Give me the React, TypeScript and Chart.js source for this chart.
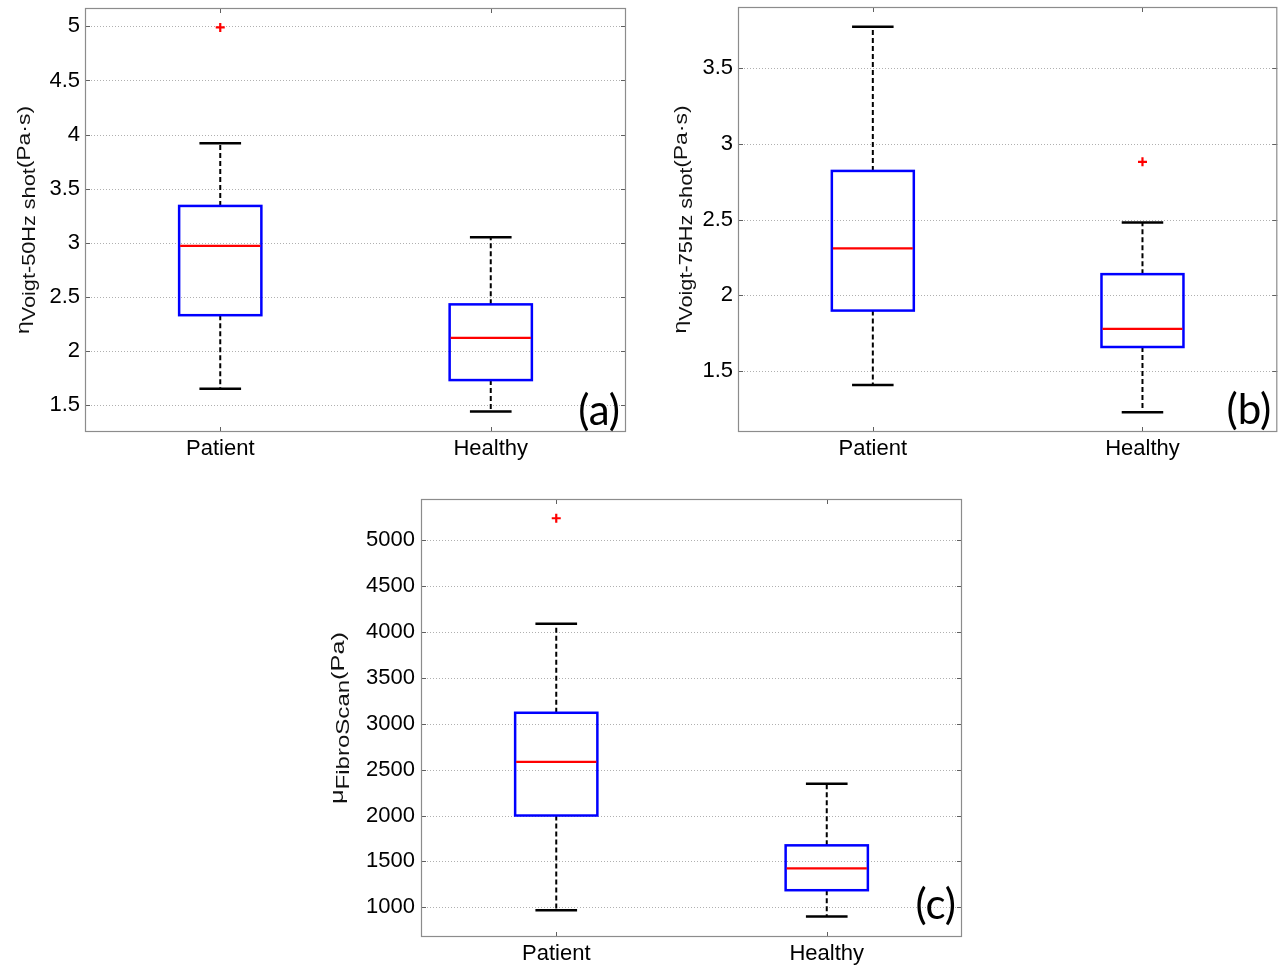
import React, { useEffect, useRef } from "react";
import { Chart, registerables } from "chart.js";

Chart.register(...registerables);

// ---------- data ----------
const categories = ["Patient", "Healthy"];

// Panel (a): eta Voigt-50Hz shot (Pa·s)
const aLow = [1.65, 1.44];
const aQ1 = [2.33, 1.73];
const aMedian = [2.97, 2.12];
const aQ3 = [3.34, 2.43];
const aHigh = [3.92, 3.05];
const aOutliers = [{ x: 1, y: 4.99 }];
const aYTicks = [1.5, 2, 2.5, 3, 3.5, 4, 4.5, 5];

// Panel (b): eta Voigt-75Hz shot (Pa·s)
const bLow = [1.41, 1.23];
const bQ1 = [1.9, 1.66];
const bMedian = [2.31, 1.78];
const bQ3 = [2.82, 2.14];
const bHigh = [3.77, 2.48];
const bOutliers = [{ x: 2, y: 2.88 }];
const bYTicks = [1.5, 2, 2.5, 3, 3.5];

// Panel (c): mu FibroScan (Pa)
const cLow = [967, 900];
const cQ1 = [2000, 1186];
const cMedian = [2585, 1423];
const cQ3 = [3120, 1675];
const cHigh = [4090, 2345];
const cOutliers = [{ x: 1, y: 5240 }];
const cYTicks = [1000, 1500, 2000, 2500, 3000, 3500, 4000, 4500, 5000];

// ---------- styles ----------
const BOX_HALF = 0.152;
const CAP_HALF = 0.077;
const TICK_FONT = '"Liberation Sans", Arial, sans-serif';
const TITLE_FONT = '"Liberation Sans", Arial, sans-serif';
const TAG_FONT = 'Lato, "Open Sans", sans-serif';

type Panel = {
  key: string;
  left: number;
  top: number;
  width: number;
  height: number;
  padTop: number;
  padRight: number;
  yAxisWidth: number;
  xAxisHeight: number;
  yMin: number;
  yMax: number;
  yTicks: number[];
  low: number[];
  q1: number[];
  med: number[];
  q3: number[];
  high: number[];
  outliers: { x: number; y: number }[];
  symbol: string;
  sub: string;
  unit: string;
  titleX: number;
  titleLen: number;
  tag: string;
  tagDy: number;
  yPad: number;
};

const panels: Panel[] = [
  {
    key: "a",
    left: 0,
    top: 0,
    width: 640,
    height: 470,
    padTop: 8,
    padRight: 14,
    yAxisWidth: 85,
    xAxisHeight: 38,
    yMin: 1.25,
    yMax: 5.17,
    yTicks: aYTicks,
    low: aLow,
    q1: aQ1,
    med: aMedian,
    q3: aQ3,
    high: aHigh,
    outliers: aOutliers,
    symbol: "η",
    sub: "Voigt-50Hz shot",
    unit: "(Pa·s)",
    titleX: 31,
    titleLen: 228,
    tag: "(a)",
    tagDy: 21,
    yPad: 5,
  },
  {
    key: "b",
    left: 650,
    top: 0,
    width: 634,
    height: 470,
    padTop: 7,
    padRight: 2,
    yAxisWidth: 88,
    xAxisHeight: 38,
    yMin: 1.1,
    yMax: 3.9,
    yTicks: bYTicks,
    low: bLow,
    q1: bQ1,
    med: bMedian,
    q3: bQ3,
    high: bHigh,
    outliers: bOutliers,
    symbol: "η",
    sub: "Voigt-75Hz shot",
    unit: "(Pa·s)",
    titleX: 38,
    titleLen: 228,
    tag: "(b)",
    tagDy: 22,
    yPad: 5,
  },
  {
    key: "c",
    left: 310,
    top: 480,
    width: 660,
    height: 491,
    padTop: 19,
    padRight: 8,
    yAxisWidth: 111,
    xAxisHeight: 34,
    yMin: 676,
    yMax: 5450,
    yTicks: cYTicks,
    low: cLow,
    q1: cQ1,
    med: cMedian,
    q3: cQ3,
    high: cHigh,
    outliers: cOutliers,
    symbol: "μ",
    sub: "FibroScan",
    unit: "(Pa)",
    titleX: 35,
    titleLen: 172,
    tag: "(c)",
    tagDy: 32,
    yPad: 6,
  },
];

function makePlugin(p: Panel) {
  return {
    id: "boxplot_" + p.key,
    beforeDatasetsDraw(chart: any) {
      const { ctx, chartArea: ca, scales } = chart;
      const xs = scales.x;
      const ys = scales.y;
      ctx.save();
      // dotted grid
      ctx.strokeStyle = "#b0b0b0";
      ctx.lineWidth = 1;
      ctx.setLineDash([1, 2]);
      for (const t of ys.ticks) {
        const y = Math.round(ys.getPixelForValue(t.value)) + 0.5;
        ctx.beginPath();
        ctx.moveTo(ca.left, y);
        ctx.lineTo(ca.right, y);
        ctx.stroke();
      }
      ctx.setLineDash([]);
      // inner tick marks
      ctx.strokeStyle = "#606060";
      for (const t of ys.ticks) {
        const y = Math.round(ys.getPixelForValue(t.value)) + 0.5;
        ctx.beginPath();
        ctx.moveTo(ca.left, y);
        ctx.lineTo(ca.left + 5, y);
        ctx.moveTo(ca.right - 5, y);
        ctx.lineTo(ca.right, y);
        ctx.stroke();
      }
      for (const t of xs.ticks) {
        const x = Math.round(xs.getPixelForValue(t.value)) + 0.5;
        ctx.beginPath();
        ctx.moveTo(x, ca.bottom);
        ctx.lineTo(x, ca.bottom - 5);
        ctx.moveTo(x, ca.top);
        ctx.lineTo(x, ca.top + 5);
        ctx.stroke();
      }
      // frame
      ctx.strokeStyle = "#8c8c8c";
      ctx.lineWidth = 1.2;
      ctx.strokeRect(ca.left + 0.5, ca.top + 0.5, ca.width - 1, ca.height - 1);

      // boxes
      categories.forEach((_c, i) => {
        const v = i + 1;
        const x = xs.getPixelForValue(v);
        const hw = xs.getPixelForValue(v + BOX_HALF) - x;
        const cw = xs.getPixelForValue(v + CAP_HALF) - x;
        const yLow = ys.getPixelForValue(p.low[i]);
        const yQ1 = ys.getPixelForValue(p.q1[i]);
        const yMed = ys.getPixelForValue(p.med[i]);
        const yQ3 = ys.getPixelForValue(p.q3[i]);
        const yHigh = ys.getPixelForValue(p.high[i]);
        // whiskers
        ctx.strokeStyle = "#000000";
        ctx.lineWidth = 2;
        ctx.setLineDash([5, 3]);
        ctx.beginPath();
        ctx.moveTo(x, yQ3);
        ctx.lineTo(x, yHigh);
        ctx.moveTo(x, yQ1);
        ctx.lineTo(x, yLow);
        ctx.stroke();
        ctx.setLineDash([]);
        ctx.lineWidth = 2.5;
        ctx.beginPath();
        ctx.moveTo(x - cw, yHigh);
        ctx.lineTo(x + cw, yHigh);
        ctx.moveTo(x - cw, yLow);
        ctx.lineTo(x + cw, yLow);
        ctx.stroke();
        // box
        ctx.strokeStyle = "#0000ff";
        ctx.lineWidth = 2.5;
        ctx.strokeRect(x - hw, yQ3, 2 * hw, yQ1 - yQ3);
        // median
        ctx.strokeStyle = "#ff0000";
        ctx.lineWidth = 2.2;
        ctx.beginPath();
        ctx.moveTo(x - hw + 1, yMed);
        ctx.lineTo(x + hw - 1, yMed);
        ctx.stroke();
      });
      ctx.restore();
    },
    afterDraw(chart: any) {
      const { ctx, chartArea: ca } = chart;
      ctx.save();
      // rotated y-axis title with subscript
      const cy = (ca.top + ca.bottom) / 2;
      const mainFont = "19px " + TITLE_FONT;
      const subFont = "18px " + TITLE_FONT;
      ctx.font = mainFont;
      const wSym = ctx.measureText(p.symbol).width;
      const wUnit = ctx.measureText(p.unit).width;
      ctx.font = subFont;
      const wSub = ctx.measureText(p.sub).width;
      const total = wSym + wSub + wUnit;
      const stretch = p.titleLen / total;
      ctx.translate(p.titleX, cy);
      ctx.rotate(-Math.PI / 2);
      ctx.scale(stretch, 1);
      let x0 = -total / 2;
      ctx.fillStyle = "#111111";
      ctx.textAlign = "left";
      ctx.textBaseline = "alphabetic";
      ctx.font = mainFont;
      ctx.fillText(p.symbol, x0, -2);
      x0 += wSym;
      ctx.font = subFont;
      ctx.fillText(p.sub, x0, 4);
      x0 += wSub;
      ctx.font = mainFont;
      ctx.fillText(p.unit, x0, -1);
      ctx.restore();

      // panel tag
      ctx.save();
      ctx.font = "42px " + TAG_FONT;
      ctx.fillStyle = "#000000";
      ctx.textAlign = "right";
      ctx.textBaseline = "middle";
      ctx.fillText(p.tag, ca.right - 6, ca.bottom - p.tagDy);
      ctx.restore();
    },
  };
}

function BoxPanel({ p }: { p: Panel }) {
  const ref = useRef<HTMLCanvasElement | null>(null);
  useEffect(() => {
    const canvas = ref.current;
    if (!canvas) return;
    const chart = new Chart(canvas, {
      type: "scatter",
      data: {
        datasets: [
          {
            data: p.outliers,
            pointStyle: "cross",
            pointRadius: 4.5,
            borderColor: "#ff0000",
            backgroundColor: "#ff0000",
            borderWidth: 2.2,
          },
        ],
      },
      options: {
        responsive: false,
        animation: false,
        events: [],
        layout: { padding: { top: p.padTop, right: p.padRight, left: 0, bottom: 0 } },
        plugins: { legend: { display: false }, tooltip: { enabled: false } },
        scales: {
          x: {
            type: "linear",
            min: 0.5,
            max: 2.5,
            grid: { display: false, drawTicks: false },
            border: { display: false },
            afterBuildTicks: (scale: any) => {
              scale.ticks = categories.map((_c, i) => ({ value: i + 1 }));
            },
            afterFit: (scale: any) => {
              scale.height = p.xAxisHeight;
              scale.paddingLeft = 0;
              scale.paddingRight = 0;
              scale.paddingTop = 0;
              scale.paddingBottom = 0;
            },
            ticks: {
              padding: 4,
              maxRotation: 0,
              color: "#000000",
              font: { family: TICK_FONT, size: 22 },
              callback: (v: any) => categories[Math.round(Number(v)) - 1] ?? "",
            },
          },
          y: {
            type: "linear",
            min: p.yMin,
            max: p.yMax,
            grid: { display: false, drawTicks: false },
            border: { display: false },
            afterBuildTicks: (scale: any) => {
              scale.ticks = p.yTicks.map((v) => ({ value: v }));
            },
            afterFit: (scale: any) => {
              scale.width = p.yAxisWidth;
              scale.paddingLeft = 0;
              scale.paddingRight = 0;
              scale.paddingTop = 0;
              scale.paddingBottom = 0;
            },
            ticks: {
              padding: p.yPad,
              color: "#000000",
              font: { family: TICK_FONT, size: 22 },
              callback: (v: any) => String(v),
            },
          },
        },
      },
      plugins: [makePlugin(p)],
    } as any);
    return () => chart.destroy();
  }, [p]);
  return (
    <div
      style={{
        position: "absolute",
        left: p.left,
        top: p.top,
        width: p.width,
        height: p.height,
      }}
    >
      <canvas ref={ref} width={p.width} height={p.height} style={{ display: "block" }} />
    </div>
  );
}

export default function App() {
  return (
    <div
      style={{
        position: "absolute",
        left: 0,
        top: 0,
        width: 1284,
        height: 971,
        background: "#ffffff",
        overflow: "hidden",
      }}
    >
      {panels.map((p) => (
        <BoxPanel key={p.key} p={p} />
      ))}
    </div>
  );
}
